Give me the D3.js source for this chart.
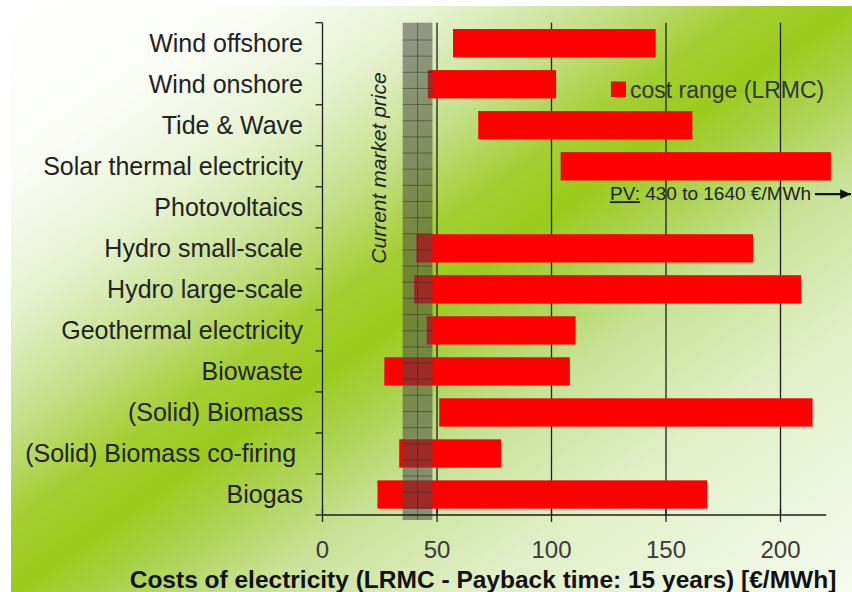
<!DOCTYPE html>
<html>
<head>
<meta charset="utf-8">
<script src="https://cdn.jsdelivr.net/npm/d3@7"></script>
<style>
  html, body { margin: 0; padding: 0; background: #ffffff; }
  svg { display: block; font-family: "Liberation Sans", Arial, sans-serif; }
</style>
</head>
<body>
<svg id="chart" width="852" height="592"></svg>
<script>
// Levelised cost ranges of renewable electricity (€/MWh)
const categories = [
  "Wind offshore",
  "Wind onshore",
  "Tide & Wave",
  "Solar thermal electricity",
  "Photovoltaics",
  "Hydro small-scale",
  "Hydro large-scale",
  "Geothermal electricity",
  "Biowaste",
  "(Solid) Biomass",
  "(Solid) Biomass co-firing ",
  "Biogas"
];
const costLow  = [57, 46, 68, 104, null, 41, 40, 45.5, 27, 51, 33.5, 24];
const costHigh = [145.5, 102, 161.5, 222, null, 188, 209, 110.5, 108, 214, 78, 168];

// Photovoltaics lies far beyond the axis, so it is stated as text
const pvRange = [430, 1640];
// Band of the current market price
const marketPrice = [35, 48];

const xTicks = [0, 50, 100, 150, 200];
const xDomain = [0, 220];
const legendLabel = "cost range (LRMC)";
const xTitle = "Costs of electricity (LRMC - Payback time: 15 years) [€/MWh]";
const bandLabel = "Current market price";

const svg = d3.select("#chart");
const W = 852, H = 592;

// background wash running diagonally across the slide
const defs = svg.append("defs");
const grad = defs.append("linearGradient")
  .attr("id", "bg").attr("x1", 0).attr("y1", 0).attr("x2", 1).attr("y2", 1);
[
  [0.00, "#ffffff"],
  [0.15, "#fafcf5"],
  [0.26, "#e6f2cf"],
  [0.36, "#c4e08a"],
  [0.44, "#a4cf33"],
  [0.50, "#9bcb1c"],
  [0.56, "#abd34f"],
  [0.64, "#c8e296"],
  [0.78, "#e2f0c9"],
  [1.00, "#f6fbef"]
].forEach(([o, c]) => grad.append("stop").attr("offset", o).attr("stop-color", c));

defs.append("marker")
  .attr("id", "arrow").attr("viewBox", "0 0 10 10")
  .attr("refX", 10).attr("refY", 5)
  .attr("markerWidth", 4.5).attr("markerHeight", 4.5)
  .attr("markerUnits", "strokeWidth")
  .attr("orient", "auto")
  .append("path").attr("d", "M0,0.5 L10,5 L0,9.5 z").attr("fill", "#111");

svg.append("rect").attr("width", W).attr("height", H).attr("fill", "#ffffff");
svg.append("rect").attr("x", 11).attr("y", 6).attr("width", W - 11).attr("height", H - 6)
  .attr("fill", "url(#bg)");

// scales
const x = d3.scaleLinear().domain(xDomain).range([322.5, 826.3]);
const y = d3.scaleBand().domain(categories).range([22.7, 515])
  .paddingInner(0.31).paddingOuter(0.155);

const axisColor = "#1e1e1e";
const yTop = y.range()[0], yBottom = y.range()[1];

// vertical grid lines
svg.append("g").selectAll("line")
  .data(xTicks.filter(d => d > 0))
  .join("line")
  .attr("x1", d => x(d)).attr("x2", d => x(d))
  .attr("y1", yTop).attr("y2", yBottom)
  .attr("stroke", axisColor).attr("stroke-width", 1.3);

// cost range bars
const rows = categories.map((c, i) => ({ c, lo: costLow[i], hi: costHigh[i] }))
  .filter(d => d.lo != null);
svg.append("g").selectAll("rect")
  .data(rows)
  .join("rect")
  .attr("x", d => x(d.lo))
  .attr("y", d => y(d.c))
  .attr("width", d => x(d.hi) - x(d.lo))
  .attr("height", y.bandwidth())
  .attr("fill", "#ff0000");

// market price band with its grid texture
const bandG = svg.append("g");
const bx0 = x(marketPrice[0]), bx1 = x(marketPrice[1]);
const bandBottom = yBottom + 5;
bandG.append("rect")
  .attr("x", bx0).attr("y", yTop)
  .attr("width", bx1 - bx0).attr("height", bandBottom - yTop)
  .attr("fill", "#4a4c44").attr("opacity", 0.55);
bandG.append("line")
  .attr("x1", (bx0 + bx1) / 2).attr("x2", (bx0 + bx1) / 2)
  .attr("y1", yTop).attr("y2", bandBottom)
  .attr("stroke", "#2a2a2a").attr("stroke-opacity", 0.45).attr("stroke-width", 1);
bandG.selectAll("line.h")
  .data(d3.range(yTop + 17.3, bandBottom, 16.15))
  .join("line").attr("class", "h")
  .attr("x1", bx0).attr("x2", bx1)
  .attr("y1", d => d).attr("y2", d => d)
  .attr("stroke", "#2a2a2a").attr("stroke-opacity", 0.45).attr("stroke-width", 1);

svg.append("text")
  .attr("transform", `translate(386,168) rotate(-90)`)
  .attr("text-anchor", "middle")
  .attr("font-style", "italic")
  .attr("font-size", 21)
  .attr("fill", "#222")
  .text(bandLabel);

// y axis: line, boundary ticks and category labels
const yAxis = svg.append("g");
yAxis.append("line")
  .attr("x1", x(0)).attr("x2", x(0)).attr("y1", yTop).attr("y2", yBottom)
  .attr("stroke", axisColor).attr("stroke-width", 1.3);
yAxis.selectAll("line.tick")
  .data(d3.range(categories.length + 1))
  .join("line").attr("class", "tick")
  .attr("x1", x(0) - 7).attr("x2", x(0))
  .attr("y1", k => yTop + k * y.step()).attr("y2", k => yTop + k * y.step())
  .attr("stroke", axisColor).attr("stroke-width", 1.3);
yAxis.selectAll("text")
  .data(categories)
  .join("text")
  .attr("xml:space", "preserve")
  .style("white-space", "pre")
  .attr("x", 303)
  .attr("y", d => y(d) + y.bandwidth() / 2 + 8.8)
  .attr("text-anchor", "end")
  .attr("font-size", 25)
  .attr("fill", "#222")
  .text(d => d);

// x axis
const xAxis = svg.append("g");
xAxis.append("line")
  .attr("x1", x(0)).attr("x2", x(xDomain[1])).attr("y1", yBottom).attr("y2", yBottom)
  .attr("stroke", axisColor).attr("stroke-width", 1.3);
xAxis.selectAll("line.tick")
  .data(xTicks)
  .join("line").attr("class", "tick")
  .attr("x1", d => x(d)).attr("x2", d => x(d))
  .attr("y1", yBottom - 6).attr("y2", yBottom + 7)
  .attr("stroke", axisColor).attr("stroke-width", 1.3);
xAxis.selectAll("text")
  .data(xTicks)
  .join("text")
  .attr("x", d => x(d))
  .attr("y", 558)
  .attr("text-anchor", "middle")
  .attr("font-size", 24)
  .attr("fill", "#3a3a3a")
  .text(d => d);

svg.append("text")
  .attr("x", 483).attr("y", 587.5)
  .attr("text-anchor", "middle")
  .attr("font-size", 24.5)
  .attr("font-weight", "bold")
  .attr("fill", "#111")
  .text(xTitle);

// legend
svg.append("rect")
  .attr("x", 611).attr("y", 81.5).attr("width", 15).attr("height", 15.5)
  .attr("fill", "#ff0000");
svg.append("text")
  .attr("x", 630).attr("y", 97.7)
  .attr("font-size", 23)
  .attr("fill", "#333")
  .text(legendLabel);

// photovoltaics note with an arrow off the scale
const pvY = y("Photovoltaics") + 1;
const pv = svg.append("text")
  .attr("x", 610).attr("y", pvY + 6)
  .attr("font-size", 19)
  .attr("fill", "#222");
pv.append("tspan").attr("text-decoration", "underline").text("PV:");
pv.append("tspan").text(` ${pvRange[0]} to ${pvRange[1]} €/MWh`);
svg.append("line")
  .attr("x1", 815).attr("x2", 851).attr("y1", pvY).attr("y2", pvY)
  .attr("stroke", "#111").attr("stroke-width", 2.4)
  .attr("marker-end", "url(#arrow)");
</script>
</body>
</html>
